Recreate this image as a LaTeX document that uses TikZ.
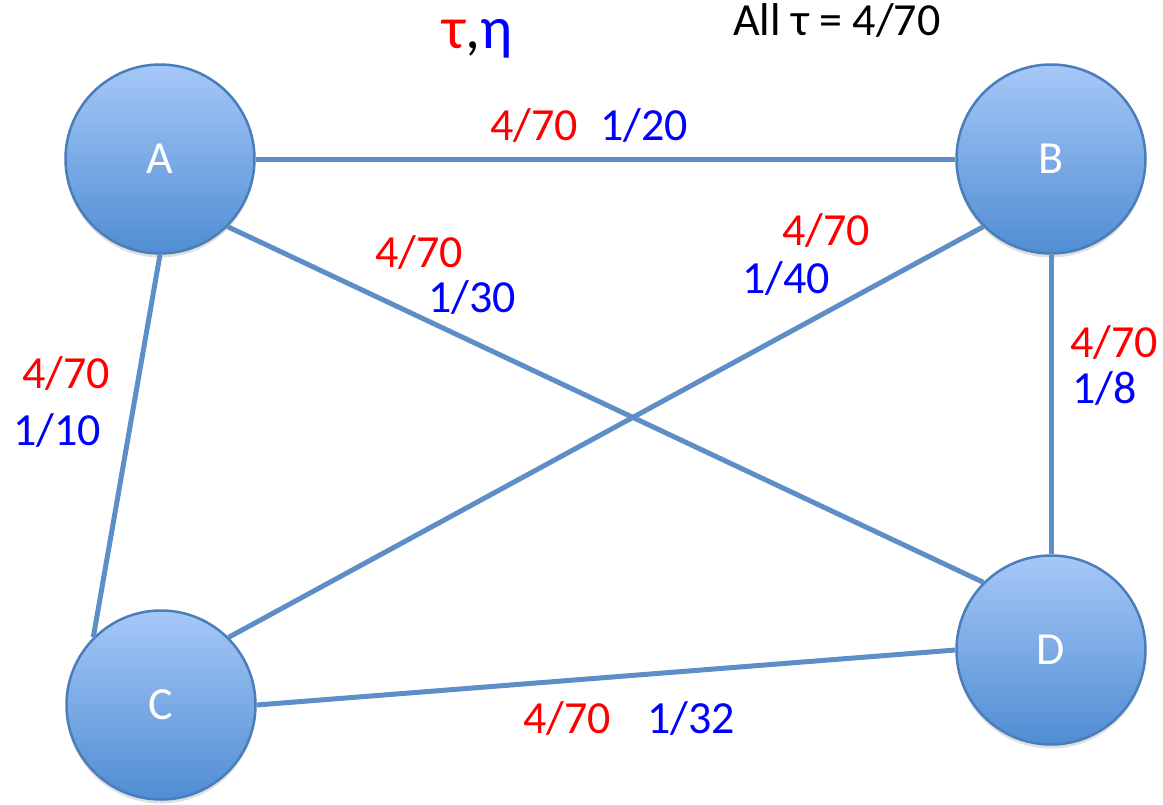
\documentclass[tikz,border=0pt]{standalone}
\usepackage{fontspec}
\setmainfont{Carlito}
\usetikzlibrary{positioning, shadows}
\definecolor{edgeblue}{RGB}{94,142,200}
\definecolor{ringblue}{RGB}{74,126,187}
\definecolor{topblue}{RGB}{166,200,248}
\definecolor{botblue}{RGB}{80,141,211}
\tikzset{
    city/.style={circle, minimum size=189pt, inner sep=0pt, draw=ringblue, line width=2.5pt,
        top color=topblue, bottom color=botblue, text=white, font=\fontsize{46}{54}\selectfont,
        drop shadow={shadow xshift=0pt, shadow yshift=-4pt, opacity=0.25}},
    link/.style={draw=edgeblue, line width=5pt},
    taulbl/.style={text=red, font=\fontsize{46}{54}\selectfont, inner sep=0pt, anchor=base west},
    etalbl/.style={text=blue, font=\fontsize{46}{54}\selectfont, inner sep=0pt, anchor=base west},
}

\begin{document}
\begin{tikzpicture}[x=1pt, y=-1pt]
    \useasboundingbox (0,0) rectangle (1163,804);
    \node[city] (A) at (160,159) {A};
    \node[city] (B) at (1051,159) {B};
    \node[city] (C) at (161,705) {C};
    \node[city] (D) at (1051,650) {D};
    \draw[link] (A.east) -- (B.west);
    \draw[link] (A.south east) -- (D.north west);
    \draw[link] (A.south) -- (C.north west);
    \draw[link] (B.south west) -- (C.north east);
    \draw[link] (B.south) -- (D.north);
    \draw[link] (C.east) -- (D.west);
    % weights on the edges
    \node[taulbl] (tAB) at (490,140) {4/70};
    \node[etalbl] (eAB) at (600,140) {1/20};
    \node[taulbl] (tAD) at (375,267) {4/70};
    \node[etalbl] (eAD) at (428,312) {1/30};
    \node[taulbl] (tBC) at (782,245) {4/70};
    \node[etalbl] (eBC) at (742,293) {1/40};
    \node[taulbl] (tAC) at (22,388) {4/70};
    \node[etalbl] (eAC) at (13,445) {1/10};
    \node[taulbl] (tBD) at (1070,357) {4/70};
    \node[etalbl] (eBD) at (1072,403) {1/8};
    \node[taulbl] (tCD) at (523,733) {4/70};
    \node[etalbl] (eCD) at (647,733) {1/32};
    % headings
    \node[inner sep=0pt, anchor=base west, font=\fontsize{60}{70}\selectfont] (key) at (442,48)
        {\textcolor{red}{τ},\textcolor{blue}{η}};
    \node[inner sep=0pt, anchor=base west, font=\fontsize{46}{54}\selectfont] (note) at (733,35)
        {All τ = 4/70};
\end{tikzpicture}
\end{document}
